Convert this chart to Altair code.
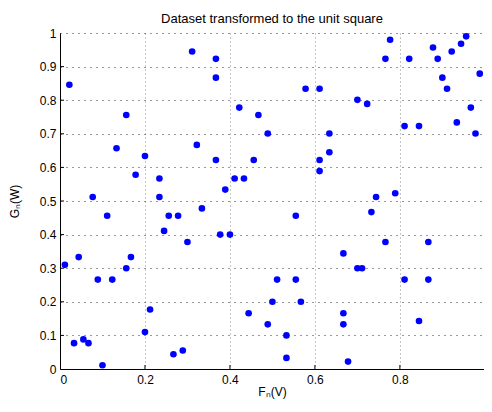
import altair as alt
import pandas as pd

xs = [0.022,0.311,0.367,0.367,0.156,0.422,0.467,0.489,0.133,0.322,0.200,0.367,0.456,0.178,0.234,0.411,0.433,0.389,0.077,0.234,
      0.777,0.766,0.822,0.878,0.889,0.922,0.944,0.956,0.900,0.911,0.988,0.578,0.611,0.700,0.723,0.634,0.811,0.845,0.967,0.934,0.978,0.634,0.611,0.611,0.744,0.789,
      0.111,0.334,0.245,0.256,0.278,0.377,0.400,0.300,0.0115,0.044,0.156,0.167,0.089,0.123,0.212,0.200,0.444,0.033,0.055,0.067,0.100,0.267,0.289,0.489,
      0.555,0.733,0.766,0.867,0.667,0.700,0.711,0.511,0.555,0.811,0.867,0.500,0.567,0.667,0.667,0.845,0.533,0.533,0.678]
ys = [0.846,0.945,0.923,0.867,0.756,0.778,0.756,0.701,0.657,0.667,0.634,0.622,0.622,0.578,0.567,0.567,0.567,0.534,0.512,0.512,
      0.980,0.923,0.923,0.957,0.923,0.945,0.968,0.990,0.867,0.834,0.879,0.834,0.834,0.801,0.789,0.701,0.723,0.723,0.778,0.734,0.701,0.645,0.622,0.589,0.512,0.523,
      0.456,0.478,0.411,0.456,0.456,0.400,0.400,0.378,0.310,0.333,0.300,0.333,0.266,0.266,0.177,0.110,0.166,0.077,0.088,0.077,0.011,0.044,0.055,0.133,
      0.456,0.467,0.378,0.378,0.344,0.300,0.300,0.266,0.266,0.266,0.266,0.200,0.200,0.166,0.133,0.143,0.100,0.033,0.022]

x_ticks = [0, 0.2, 0.4, 0.6, 0.8]
y_ticks = [0, 0.1, 0.2, 0.3, 0.4, 0.5, 0.6, 0.7, 0.8, 0.9, 1]

title = "Dataset transformed to the unit square"
x_title = "F\u2099(V)"
y_title = "G\u2099(W)"

W, H = 424, 336
xdom = [0, 0.998]
ydom = [0, 1]
FONT = "Liberation Sans"

df = pd.DataFrame({"x": xs, "y": ys})
xt = pd.DataFrame({"t": x_ticks[1:]})
yt = pd.DataFrame({"t": y_ticks[1:-1]})

xscale = alt.Scale(domain=xdom, nice=False, zero=False)
yscale = alt.Scale(domain=ydom, nice=False, zero=False)

xaxis = alt.Axis(values=x_ticks, format="~g", grid=True, gridDash=[1, 3], gridColor="#8a8a8a",
                 tickSize=0, labelPadding=5, titlePadding=1, domainColor="black",
                 labelOverlap=False, labelColor="black", titleColor="black",
                 labelFontSize=12, titleFontSize=12, titleFontWeight="normal",
                 labelFont=FONT, titleFont=FONT)
yaxis = alt.Axis(values=y_ticks, format="~g", grid=True, gridDash=[1, 5], gridColor="#333333",
                 tickSize=0, labelPadding=4, titlePadding=18, domainColor="black",
                 labelOverlap=False, labelColor="black", titleColor="black",
                 labelFontSize=12, titleFontSize=12, titleFontWeight="normal",
                 labelFont=FONT, titleFont=FONT)

points = alt.Chart(df).mark_circle(size=44, color="#0000ff", opacity=1).encode(
    x=alt.X("x:Q", scale=xscale, title=x_title, axis=xaxis),
    y=alt.Y("y:Q", scale=yscale, title=y_title, axis=yaxis),
)

xtick_marks = alt.Chart(xt).mark_rule(color="black", strokeWidth=1).encode(
    x=alt.X("t:Q", scale=xscale, title=x_title, axis=xaxis), y=alt.value(H), y2=alt.value(H - 4))
ytick_marks = alt.Chart(yt).mark_rule(color="black", strokeWidth=1).encode(
    y=alt.Y("t:Q", scale=yscale, title=y_title, axis=yaxis), x=alt.value(0), x2=alt.value(4))

chart = alt.layer(points, xtick_marks, ytick_marks).properties(
    width=W, height=H,
    title=alt.TitleParams(title, fontSize=13, fontWeight="normal", font=FONT, color="black", offset=1),
    autosize=alt.AutoSizeParams(type="none"),
    padding={"left": 52, "top": 25, "right": 0, "bottom": 31},
).configure_view(stroke=None).configure_axis(domainWidth=1)

chart.save("out.html", embed_options={"renderer": "svg", "actions": False})
